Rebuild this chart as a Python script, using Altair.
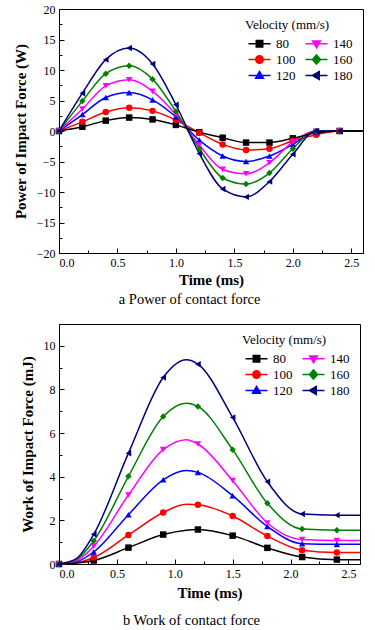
import altair as alt
import pandas as pd

# ---------------- data ----------------
SERIES = ["80", "100", "120", "140", "160", "180"]
COLORS = ["#000000", "#ff0000", "#0000ff", "#ff00ff", "#008000", "#000080"]

# panel a: power of contact force (W)
t_power = [0.0, 0.2, 0.4, 0.6, 0.8, 1.0, 1.2, 1.4, 1.6, 1.8, 2.0, 2.2, 2.4]
p80 = [0, 0.7, 1.7, 2.2, 1.9, 1.0, -0.2, -1.1, -1.9, -1.9, -1.2, -0.3, 0]
p100 = [0, 1.5, 3.1, 3.8, 3.3, 1.8, -0.3, -2.2, -3.1, -2.9, -1.6, -0.6, 0]
p120 = [0, 2.7, 5.5, 6.3, 5.1, 2.3, -1.5, -4.1, -5.0, -4.1, -2.2, -0.1, 0]
p140 = [0, 3.6, 7.4, 8.4, 6.5, 2.7, -2.3, -6.3, -7.0, -5.2, -1.8, 0, 0]
p160 = [0, 4.9, 9.4, 10.7, 8.5, 3.2, -2.9, -7.7, -8.7, -6.9, -2.9, 0, 0]
p180 = [0, 6.2, 11.7, 13.6, 11.0, 4.3, -3.7, -9.5, -10.8, -8.3, -3.8, 0, 0]
# curves continue (without markers) to the right frame
t_power_end = [2.6]
p_end = {"80": [0], "100": [0], "120": [0], "140": [0], "160": [0], "180": [0]}

# panel b: work of contact force (mJ)
t_work = [0.0, 0.3, 0.6, 0.9, 1.2, 1.5, 1.8, 2.1, 2.4]
w80 = [0, 0.16, 0.75, 1.35, 1.58, 1.30, 0.74, 0.32, 0.20]
w100 = [0, 0.30, 1.33, 2.36, 2.72, 2.20, 1.28, 0.63, 0.53]
w120 = [0, 0.55, 2.26, 3.86, 4.20, 3.13, 1.72, 0.93, 0.90]
w140 = [0, 0.82, 3.16, 5.24, 5.50, 3.82, 1.88, 1.12, 1.08]
w160 = [0, 1.06, 4.02, 6.76, 7.22, 5.24, 2.78, 1.60, 1.55]
w180 = [0, 1.36, 5.08, 8.55, 9.16, 6.72, 3.77, 2.29, 2.24]
# extra points (no markers there)
t_work_curve = [0.15, 1.1, 2.6]
w_curve = {
    "80": [0.04, 1.55, 0.20],
    "100": [0.06, 2.74, 0.53],
    "120": [0.10, 4.28, 0.90],
    "140": [0.15, 5.70, 1.08],
    "160": [0.20, 7.37, 1.55],
    "180": [0.25, 9.36, 2.24],
}

power = dict(zip(SERIES, [p80, p100, p120, p140, p160, p180]))
work = dict(zip(SERIES, [w80, w100, w120, w140, w160, w180]))


def long(ts, d):
    rows = []
    for s, vals in d.items():
        for t, v in zip(ts, vals):
            rows.append({"t": t, "v": v, "s": s})
    return pd.DataFrame(rows)


pa_pts = long(t_power, power)
pa_line = pd.concat([pa_pts, long(t_power_end, p_end)]).sort_values(["s", "t"])
pb_pts = long(t_work, work)
pb_line = pd.concat([pb_pts, long(t_work_curve, w_curve)]).sort_values(["s", "t"])

# ---------------- styling ----------------
FONT = "Liberation Serif"
MARKERS = ["square", "circle", "triangle-up", "triangle-down", "diamond", "triangle-left"]
L = "M-3.4,0H3.4"
LEGEND_SHAPES = [
    L + "M-1,-1H1V1H-1Z",
    L + "M-1.15,0A1.15,1.15,0,1,0,1.15,0A1.15,1.15,0,1,0,-1.15,0Z",
    L + "M0,-1.25L1.2,0.85L-1.2,0.85Z",
    L + "M0,1.25L1.2,-0.85L-1.2,-0.85Z",
    L + "M0,-1.4L1.25,0L0,1.4L-1.25,0Z",
    L + "M-1.25,0L0.85,-1.2L0.85,1.2Z",
]
color_scale = alt.Scale(domain=SERIES, range=COLORS)
marker_scale = alt.Scale(domain=SERIES, range=MARKERS)
legend_shape_scale = alt.Scale(domain=SERIES, range=LEGEND_SHAPES)

X_MAJOR = [0, 0.5, 1.0, 1.5, 2.0, 2.5]
X_MINOR = [0.25, 0.75, 1.25, 1.75, 2.25]

legend = alt.Legend(
    title="Velocity (mm/s)", orient="top-right", columns=2, offset=8,
    titleFont=FONT, titleFontSize=13, titleFontWeight="normal", titleColor="black",
    labelFont=FONT, labelFontSize=13, labelColor="black",
    symbolSize=42, symbolStrokeWidth=1.5, symbolOffset=8, labelOffset=10,
    columnPadding=6, rowPadding=0, padding=2,
)


def panel(line_df, pt_df, ydom, ymaj, ymin, ytitle, caption, w, h, xtitle_pad, cap_offset):
    xs = alt.Scale(domain=[0, 2.6], nice=False, zero=False)
    ys = alt.Scale(domain=ydom, nice=False, zero=False)
    lines = alt.Chart(line_df).mark_line(interpolate="monotone", strokeWidth=1.5).encode(
        x=alt.X("t:Q", scale=xs, axis=alt.Axis(
            orient="bottom", values=X_MAJOR, format=".1f", ticks=False, title="Time (ms)",
            labelPadding=4, titlePadding=xtitle_pad)),
        y=alt.Y("v:Q", scale=ys, axis=alt.Axis(
            orient="left", values=ymaj, format="d", ticks=False, title=ytitle,
            labelPadding=4, titlePadding=8)),
        color=alt.Color("s:N", scale=color_scale, legend=None),
        detail="s:N",
    )
    # markers; their axes only draw inward major ticks
    pts = alt.Chart(pt_df).mark_point(filled=True, size=42, opacity=1).encode(
        x=alt.X("t:Q", scale=xs, axis=alt.Axis(
            orient="top", offset=-h, values=X_MAJOR, labels=False, domain=False,
            ticks=True, tickSize=5, tickColor="black", title="")),
        y=alt.Y("v:Q", scale=ys, axis=alt.Axis(
            orient="left", offset=-5, values=ymaj, labels=False, domain=False,
            ticks=True, tickSize=5, tickColor="black", title="")),
        color=alt.Color("s:N", scale=color_scale, legend=None),
        shape=alt.Shape("s:N", scale=marker_scale, legend=None),
    )
    # invisible layer carrying the inward minor ticks
    minor = alt.Chart(pt_df).mark_point(opacity=0).encode(
        x=alt.X("t:Q", scale=xs, axis=alt.Axis(
            orient="top", offset=-h, values=X_MINOR, labels=False, domain=False,
            ticks=True, tickSize=3, tickColor="black", title="")),
        y=alt.Y("v:Q", scale=ys, axis=alt.Axis(
            orient="left", offset=-3, values=ymin, labels=False, domain=False,
            ticks=True, tickSize=3, tickColor="black", title="")),
    )
    # legend-only layer (no rows drawn): line + marker symbols
    leg = alt.Chart(pt_df).transform_filter("datum.t < -1").mark_point(
        filled=False, size=42, opacity=1, strokeWidth=1.5
    ).encode(
        color=alt.Color("s:N", scale=color_scale, legend=legend),
        fill=alt.Fill("s:N", scale=color_scale, legend=legend),
        shape=alt.Shape("s:N", scale=legend_shape_scale, legend=legend),
    )
    return alt.layer(lines, pts, minor, leg).resolve_axis(
        x="independent", y="independent"
    ).resolve_scale(shape="independent", color="independent", fill="independent").resolve_legend(
        shape="independent", color="independent", fill="independent"
    ).properties(
        width=w, height=h,
        title=alt.TitleParams(caption, orient="bottom", anchor="middle", frame="bounds",
                              font=FONT, fontSize=14.5, fontWeight="normal", color="black",
                              offset=cap_offset),
    )


top = panel(pa_line, pa_pts, [-20, 20], list(range(-20, 21, 5)),
            [-17.5, -12.5, -7.5, -2.5, 2.5, 7.5, 12.5, 17.5],
            "Power of Impact Force (W)", "a  Power of contact force", 304, 244, 4, 6)
bottom = panel(pb_line, pb_pts, [0, 11], [0, 2, 4, 6, 8, 10], [1, 3, 5, 7, 9],
               "Work of Impact Force (mJ)", "b  Work of contact force", 301, 240, 6, 14)

chart = alt.vconcat(top, bottom, spacing=16).resolve_scale(
    color="independent", shape="independent", fill="independent",
    x="independent", y="independent"
).resolve_legend(color="independent", shape="independent", fill="independent").properties(
    padding={"left": 12, "top": 2, "right": 5, "bottom": 0}
).configure(font=FONT).configure_axis(
    labelFont=FONT, labelFontSize=12, labelColor="black",
    titleFont=FONT, titleFontSize=15, titleFontWeight="bold", titleColor="black",
    domainColor="black", grid=False,
).configure_view(stroke="black", strokeWidth=1)

chart.save("out.html", embed_options={"renderer": "svg", "actions": False})
